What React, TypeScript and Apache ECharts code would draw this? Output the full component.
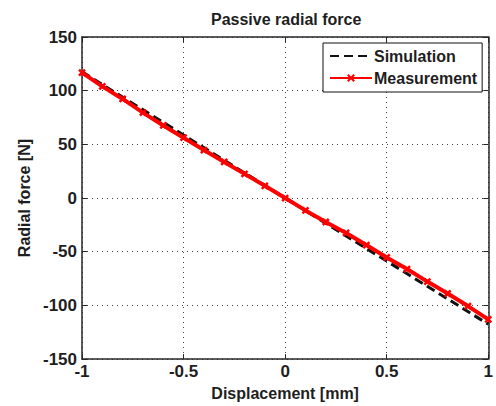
import React, { useEffect, useRef } from "react";
import * as echarts from "echarts";

const displacement = [-1, -0.9, -0.8, -0.7, -0.6, -0.5, -0.4, -0.3, -0.2, -0.1, 0, 0.1, 0.2, 0.3, 0.4, 0.5, 0.6, 0.7, 0.8, 0.9, 1];
const measurement = [116.9, 104, 92.3, 79.6, 67.6, 56.2, 44.7, 33.6, 22.5, 11.4, 0, -11.5, -22.3, -32.5, -43.8, -55.3, -66.1, -77.8, -88.9, -100.6, -113];
const simDisplacement = [-1, -0.5, 0, 0.5, 1];
const simulation = [117.5, 58.7, 0, -58.7, -117.5];
const xTicks = [-1, -0.5, 0, 0.5, 1];
const yTicks = [-150, -100, -50, 0, 50, 100, 150];

const FONT = "Liberation Sans, Arial, Helvetica, sans-serif";
const AXIS_COLOR = "#262626";

export default function App() {
  const ref = useRef<HTMLDivElement>(null);
  useEffect(() => {
    if (!ref.current) return;
    const chart = echarts.init(ref.current, undefined, { renderer: "svg" });
    const tickStyle = { fontFamily: FONT, fontSize: 17, fontWeight: "bold" as const, color: "#1e1e1e" };
    const nameStyle = { fontFamily: FONT, fontSize: 16, fontWeight: "bold" as const, color: "#1e1e1e" };
    const gridLine = { show: true, lineStyle: { type: [1, 4] as any, color: "#444", width: 1 } };
    const axisLine = { show: true, onZero: false, lineStyle: { color: AXIS_COLOR, width: 1.5 } };
    const tick = { show: true, inside: true, length: 5, lineStyle: { color: AXIS_COLOR, width: 1 } };
    chart.setOption({
      animation: false,
      backgroundColor: "#fff",
      title: {
        text: "Passive radial force",
        left: 211,
        top: 11,
        padding: 0,
        textStyle: { fontFamily: FONT, fontSize: 16, fontWeight: "bold", color: "#1e1e1e" },
      },
      legend: {
        orient: "vertical",
        left: 323,
        top: 43,
        padding: [5, 5, 6, 6],
        itemGap: 6,
        itemWidth: 42,
        itemHeight: 8,
        backgroundColor: "#fff",
        borderColor: "#111",
        borderWidth: 1,
        borderRadius: 0,
        textStyle: { fontFamily: FONT, fontSize: 16, fontWeight: "bold", color: "#1e1e1e", padding: [0, 0, 0, -3] },
        data: [
          { name: "Simulation", itemStyle: { color: "rgba(0,0,0,0)", borderWidth: 0, opacity: 0 } },
          { name: "Measurement" },
        ],
      },
      grid: { left: 82, right: 4, top: 37, bottom: 45 },
      xAxis: [
        {
          type: "value",
          min: -1,
          max: 1,
          interval: 0.5,
          name: "Displacement [mm]",
          nameLocation: "middle",
          nameGap: 24,
          nameTextStyle: nameStyle,
          axisLine,
          axisTick: tick,
          axisLabel: { ...tickStyle, margin: 4, formatter: (v: number) => (xTicks.includes(v) ? String(v) : "") },
          splitLine: gridLine,
        },
        {
          type: "value",
          position: "top",
          min: -1,
          max: 1,
          interval: 0.5,
          axisLine,
          axisTick: tick,
          axisLabel: { show: false },
          splitLine: { show: false },
        },
      ],
      yAxis: [
        {
          type: "value",
          min: -150,
          max: 150,
          interval: 50,
          name: "Radial force [N]",
          nameLocation: "middle",
          nameGap: 49,
          nameTextStyle: nameStyle,
          axisLine,
          axisTick: tick,
          axisLabel: { ...tickStyle, margin: 5, formatter: (v: number) => (yTicks.includes(v) ? String(v) : "") },
          splitLine: gridLine,
        },
        {
          type: "value",
          position: "right",
          min: -150,
          max: 150,
          interval: 50,
          axisLine,
          axisTick: tick,
          axisLabel: { show: false },
          splitLine: { show: false },
        },
      ],
      series: [
        {
          name: "Simulation",
          type: "line",
          data: simDisplacement.map((x, i) => [x, simulation[i]]),
          showSymbol: false,
          symbol: "none",
          lineStyle: { color: "#111", width: 3, type: [9, 5] as any },
          itemStyle: { color: "#111" },
          z: 2,
        },
        {
          name: "Measurement",
          type: "line",
          data: displacement.map((x, i) => [x, measurement[i]]),
          symbol: "path://M0 0L10 10M10 0L0 10",
          symbolSize: 6,
          lineStyle: { color: "#ff0000", width: 4 },
          itemStyle: { color: "#ff0000", borderColor: "#ff0000", borderWidth: 2.5 },
          z: 3,
        },
      ],
    });
    return () => chart.dispose();
  }, []);
  return <div ref={ref} style={{ position: "absolute", left: 0, top: 0, width: 496, height: 406 }} />;
}
